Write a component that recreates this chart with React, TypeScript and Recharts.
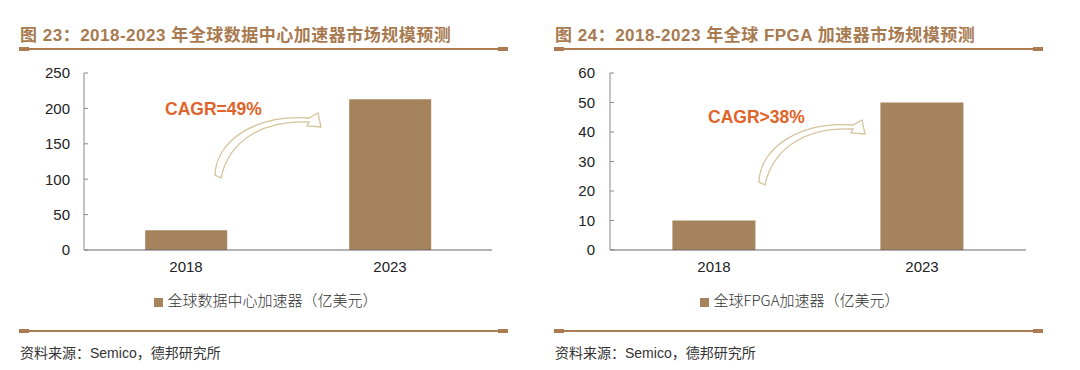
import * as React from "react";
import { BarChart, Bar, XAxis, YAxis, Legend } from "recharts";

const years = ["2018", "2023"];
const dcValues = [28, 213];
const fpgaValues = [10, 50];
const dcTicks = [0, 50, 100, 150, 200, 250];
const fpgaTicks = [0, 10, 20, 30, 40, 50, 60];

const dcData = years.map((y, i) => ({ year: y, value: dcValues[i] }));
const fpgaData = years.map((y, i) => ({ year: y, value: fpgaValues[i] }));

const BROWN = "#A5835C";
const TITLE = "#A87A50";
const RULE = "#AD7B52";
const SANS = "'Liberation Sans', Arial, 'Noto Sans CJK SC', sans-serif";

const Rule = ({ left, top, width }: any) => (
  <div style={{ position: "absolute", left, top, width, height: 2 }}>
    <div style={{ position: "absolute", left: 0, top: 0, width, height: 2, background: RULE }} />
    <div style={{ position: "absolute", left: 0, top: -1, width: 10, height: 4, background: RULE }} />
    <div style={{ position: "absolute", right: 0, top: -1, width: 10, height: 4, background: RULE }} />
  </div>
);

const Panel = (p: any) => (
  <div style={{ position: "absolute", left: p.x, top: 0, width: 540, height: 370 }}>
    <div
      style={{
        position: "absolute",
        left: p.titleLeft,
        top: 21,
        fontFamily: SANS,
        fontWeight: 700,
        fontSize: 17,
        color: TITLE,
        whiteSpace: "nowrap",
        letterSpacing: 0.5,
      }}
    >
      {p.title}
    </div>
    <Rule left={p.titleLeft - 1} top={48} width={489} />
    <div style={{ position: "absolute", left: 0, top: 0 }}>
      <BarChart
        width={540}
        height={320}
        data={p.data}
        margin={{ top: 73, right: p.right, left: 0, bottom: 18 }}
        barCategoryGap="30%"
      >
        <XAxis
          dataKey="year"
          height={31}
          axisLine={{ stroke: "#666" }}
          tickLine={false}
          tickSize={0}
          tickMargin={11}
          tick={{ fill: "#222", fontSize: 15, fontFamily: SANS }}
        />
        <YAxis
          width={p.yWidth}
          domain={[0, p.ticks[p.ticks.length - 1]]}
          ticks={p.ticks}
          interval={0}
          axisLine={{ stroke: "#888" }}
          tickLine={{ stroke: "#888" }}
          tickSize={-4}
          tickMargin={p.labelGap + 4}
          tick={{ fill: "#222", fontSize: 15, fontFamily: SANS }}
        />
        <Legend
          iconType="square"
          iconSize={9}
          align="center"
          wrapperStyle={{ position: "absolute", top: 289, left: p.legendShift, width: 540 }}
          formatter={(v: any) => (
            <span style={{ color: "#333", fontSize: 15, fontFamily: "'Noto Sans CJK SC', sans-serif", fontWeight: 300 }}>
              {v}
            </span>
          )}
        />
        <Bar dataKey="value" name={p.legendName} fill={BROWN} isAnimationActive={false} />
      </BarChart>
    </div>
    <Rule left={p.titleLeft - 1} top={330} width={489} />
    <div
      style={{
        position: "absolute",
        left: p.titleLeft,
        top: 342,
        fontFamily: "'Liberation Sans', 'Noto Sans CJK SC', sans-serif",
        fontSize: 14,
        color: "#333",
        whiteSpace: "nowrap",
      }}
    >
      资料来源：Semico，德邦研究所
    </div>
  </div>
);

const arrowPath =
  "M 0 0 L -6 -3 C -5 -38, 36 -64, 88 -60 L 97 -65 L 100 -51 L 86 -52 L 88 -56 C 42 -58, 8 -38, 0 0 Z";

export default function App() {
  return (
    <div style={{ position: "absolute", left: 0, top: 0, width: 1080, height: 370, background: "#fff" }}>
      <Panel
        x={0}
        titleLeft={20}
        title="图 23：2018-2023 年全球数据中心加速器市场规模预测"
        data={dcData}
        ticks={dcTicks}
        right={48}
        yWidth={84}
        labelGap={14}
        legendShift={1}
        legendName="全球数据中心加速器（亿美元）"
      />
      <Panel
        x={540}
        titleLeft={15}
        title="图 24：2018-2023 年全球 FPGA 加速器市场规模预测"
        data={fpgaData}
        ticks={fpgaTicks}
        right={54}
        yWidth={70}
        labelGap={15}
        legendShift={-5}
        legendName="全球FPGA加速器（亿美元）"
      />
      <svg
        width={1080}
        height={370}
        style={{ position: "absolute", left: 0, top: 0, pointerEvents: "none" }}
      >
        <text x={165} y={115} fill="#E0632A" fontSize={17.5} fontWeight={700} fontFamily={SANS}>
          CAGR=49%
        </text>
        <text x={708} y={123} fill="#E0632A" fontSize={17.5} fontWeight={700} fontFamily={SANS}>
          CAGR&gt;38%
        </text>
        <path d={arrowPath} transform="translate(221,178)" fill="#fff" stroke="#D6C49C" strokeWidth={1.3} />
        <path d={arrowPath} transform="translate(765,185)" fill="#fff" stroke="#D6C49C" strokeWidth={1.3} />
      </svg>
    </div>
  );
}
